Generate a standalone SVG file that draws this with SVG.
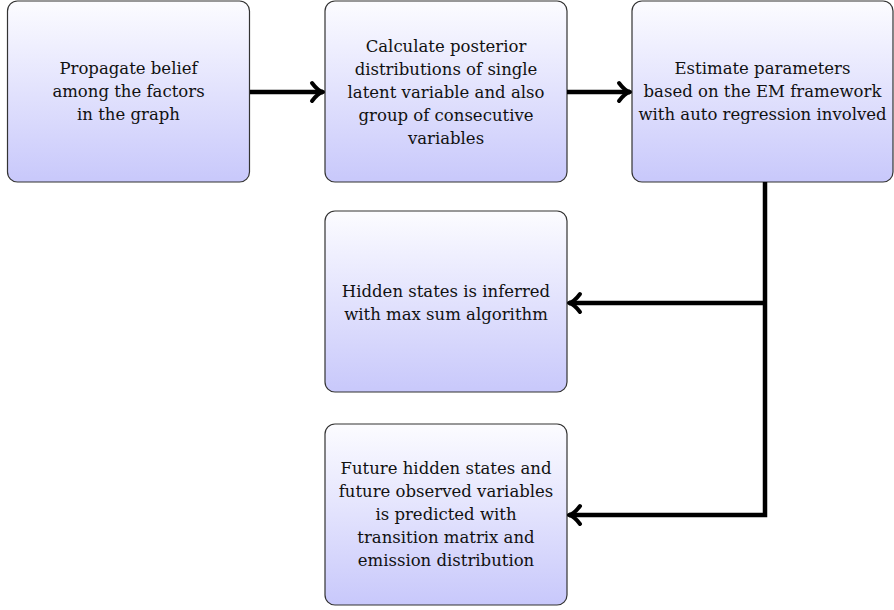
<svg xmlns="http://www.w3.org/2000/svg" width="894" height="610" viewBox="0 0 894 610">
<defs>
<linearGradient id="g" x1="0" y1="0" x2="0" y2="1">
<stop offset="0" stop-color="#fcfcff"/>
<stop offset="1" stop-color="#c8c8fb"/>
</linearGradient>
<marker id="ah" markerUnits="userSpaceOnUse" viewBox="-14 -12 18 24" markerWidth="18" markerHeight="24" refX="0" refY="0" orient="auto">
<path d="M-11,-9 Q-5,-1 0,0 Q-5,1 -11,9" fill="none" stroke="#000" stroke-width="4" stroke-linecap="round" stroke-linejoin="round"/>
</marker>
</defs>
<style>
.box{fill:url(#g);stroke:#333;stroke-width:1.2}
.t{font-size:16.5px;fill:#111;text-anchor:middle}
.c{fill:none;stroke:#000;stroke-width:4.5}
</style>
<rect width="894" height="610" fill="#fff"/>
<g font-family="DejaVu Serif, Liberation Serif, serif">
<g id="n1">
<rect class="box" x="7.5" y="1" width="242" height="181" rx="10"/>
<text class="t"><tspan x="128.5" y="74">Propagate belief</tspan><tspan x="128.5" y="97">among the factors</tspan><tspan x="128.5" y="120">in the graph</tspan></text>
</g>
<g id="n2">
<rect class="box" x="325" y="1" width="242" height="181" rx="10"/>
<text class="t"><tspan x="446" y="52">Calculate posterior</tspan><tspan x="446" y="75">distributions of single</tspan><tspan x="446" y="98">latent variable and also</tspan><tspan x="446" y="121">group of consecutive</tspan><tspan x="446" y="144">variables</tspan></text>
</g>
<g id="n3">
<rect class="box" x="632" y="1" width="261" height="181" rx="10"/>
<text class="t"><tspan x="762.5" y="74">Estimate parameters</tspan><tspan x="762.5" y="97">based on the EM framework</tspan><tspan x="762.5" y="120">with auto regression involved</tspan></text>
</g>
<g id="n4">
<rect class="box" x="325" y="211" width="242" height="181" rx="10"/>
<text class="t"><tspan x="446" y="297">Hidden states is inferred</tspan><tspan x="446" y="320">with max sum algorithm</tspan></text>
</g>
<g id="n5">
<rect class="box" x="325" y="424" width="242" height="181" rx="10"/>
<text class="t"><tspan x="446" y="474">Future hidden states and</tspan><tspan x="446" y="497">future observed variables</tspan><tspan x="446" y="520">is predicted with</tspan><tspan x="446" y="543">transition matrix and</tspan><tspan x="446" y="566">emission distribution</tspan></text>
</g>
</g>
<g id="connectors">
<path class="c" d="M250,92 H323" marker-end="url(#ah)"/>
<path class="c" d="M567,92 H630" marker-end="url(#ah)"/>
<path class="c" d="M765,182 V515 H569" marker-end="url(#ah)"/>
<path class="c" d="M765,303 H569" marker-end="url(#ah)"/>
</g>
</svg>
